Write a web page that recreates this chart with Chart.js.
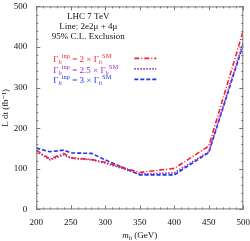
<!DOCTYPE html>
<html>
<head>
<meta charset="utf-8">
<script src="https://cdn.jsdelivr.net/npm/chart.js@4"></script>
<style>
  html, body { margin: 0; padding: 0; background: #fff; }
  #wrap { width: 250px; height: 241px; }
</style>
</head>
<body>
<div id="wrap"><canvas id="LimitChart"></canvas></div>
<script>
const masses = [200, 220, 240, 250, 280, 300, 350, 400, 450, 500]
const width2 = [146, 124, 138, 127, 123, 116, 91, 101, 156, 440]
const width25 = [143, 122, 134, 126, 122, 114, 87, 90, 142, 412]
const width3 = [151, 142, 146, 139, 138, 122, 85, 85, 140, 406]
const xTicks = [200, 250, 300, 350, 400, 450, 500]
const yTicks = [0, 100, 200, 300, 400, 500]

const serif = "'Liberation Serif', 'DejaVu Serif', serif"

function pts(ys) {
  return masses.map((m, i) => ({ x: m, y: ys[i] }))
}

// text with some pieces in sub/superscript, left aligned at x
function richText(ctx, x, y, parts, color, size) {
  size = size || 9
  ctx.fillStyle = color
  ctx.textBaseline = 'alphabetic'
  ctx.textAlign = 'left'
  for (const p of parts) {
    const s = p.s ? size * 0.72 : size
    ctx.font = (p.i ? 'italic ' : '') + s + 'px ' + serif
    let dy = 0
    if (p.s == 'sub') dy = 2
    if (p.s == 'sup') dy = -4
    ctx.fillText(p.t, x, y + dy)
    x += ctx.measureText(p.t).width
  }
  return x
}

function richWidth(ctx, parts, size) {
  let w = 0
  for (const p of parts) {
    const s = p.s ? size * 0.72 : size
    ctx.font = (p.i ? 'italic ' : '') + s + 'px ' + serif
    w += ctx.measureText(p.t).width
  }
  return w
}

const frame = {
  id: 'frame',
  afterDraw(chart) {
    const ctx = chart.ctx
    const a = chart.chartArea
    const xs = chart.scales.x
    const ys = chart.scales.y
    ctx.save()
    ctx.strokeStyle = '#777'
    ctx.lineWidth = 1
    ctx.strokeRect(a.left + 0.5, a.top + 0.5, a.right - a.left - 1, a.bottom - a.top - 1)
    ctx.beginPath()
    for (let v = 200; v <= 500; v += 10) {
      const px = Math.round(xs.getPixelForValue(v)) + 0.5
      const len = v % 50 == 0 ? 4 : 2
      ctx.moveTo(px, a.bottom); ctx.lineTo(px, a.bottom - len)
      ctx.moveTo(px, a.top); ctx.lineTo(px, a.top + len)
    }
    for (let v = 0; v <= 500; v += 20) {
      const py = Math.round(ys.getPixelForValue(v)) + 0.5
      const len = v % 100 == 0 ? 4 : 2
      ctx.moveTo(a.left, py); ctx.lineTo(a.left + len, py)
      ctx.moveTo(a.right, py); ctx.lineTo(a.right - len, py)
    }
    ctx.stroke()

    // x axis title with italic m and subscript h
    const xt = [{ t: 'm', i: true }, { t: 'h', s: 'sub', i: true }, { t: ' (GeV)' }]
    const w = richWidth(ctx, xt, 9)
    richText(ctx, (a.left + a.right) / 2 - w / 2, chart.height - 3, xt, '#111', 9)

    // header text
    ctx.fillStyle = '#111'
    ctx.font = '9px ' + serif
    ctx.textAlign = 'center'
    const cx = a.left + 52
    ctx.fillText('LHC 7 TeV', cx, a.top + 13)
    ctx.fillText('Line: 2e2\u03bc + 4\u03bc', cx, a.top + 23)
    ctx.fillText('95% C.L. Exclusion', cx, a.top + 33)

    // legend
    const entries = [
      { k: '2', color: '#f5222d', dash: [5, 2, 1, 2] },
      { k: '2.5', color: '#9a2fb0', dash: [1.5, 1.5] },
      { k: '3', color: '#2234f2', dash: [4, 2] }
    ]
    entries.forEach((e, i) => {
      const y = a.top + 56 + i * 10.5
      richText(ctx, a.left + 17, y, [
        { t: '\u0393' }, { t: 'h', s: 'sub', i: true }, { t: 'inp', s: 'sup' },
        { t: ' = ' + e.k + ' \u00d7 \u0393' }, { t: 'h', s: 'sub', i: true }, { t: 'SM', s: 'sup' }
      ], e.color, 9)
      ctx.strokeStyle = e.color
      ctx.lineWidth = 1.6
      ctx.setLineDash(e.dash)
      ctx.beginPath()
      ctx.moveTo(a.left + 98, y - 4)
      ctx.lineTo(a.left + 120, y - 4)
      ctx.stroke()
      ctx.setLineDash([])
    })
    ctx.restore()
  }
}

const el = document.getElementById('LimitChart')
new Chart(el, {
  type: 'line',
  data: {
    datasets: [
      { label: '2', data: pts(width2), borderColor: '#f5222d', borderWidth: 1.6, borderDash: [5, 2, 1, 2], pointRadius: 0, tension: 0 },
      { label: '2.5', data: pts(width25), borderColor: '#9a2fb0', borderWidth: 1.6, borderDash: [1.5, 1.5], pointRadius: 0, tension: 0 },
      { label: '3', data: pts(width3), borderColor: '#2234f2', borderWidth: 1.6, borderDash: [4, 2], pointRadius: 0, tension: 0 }
    ]
  },
  options: {
    responsive: true,
    maintainAspectRatio: false,
    animation: false,
    layout: { padding: { top: 5, right: 2, left: 0, bottom: 0 } },
    plugins: { legend: { display: false }, tooltip: { enabled: false } },
    scales: {
      x: {
        type: 'linear', min: 200, max: 500,
        afterBuildTicks: s => { s.ticks = xTicks.map(v => ({ value: v })) },
        grid: { display: false },
        border: { display: false },
        ticks: { color: '#111', font: { family: serif, size: 9 }, padding: 0, maxRotation: 0 },
        title: { display: true, text: 'm (GeV)', color: 'rgba(0,0,0,0)', font: { family: serif, size: 9 }, padding: { top: 1, bottom: 1 } }
      },
      y: {
        min: 0, max: 500,
        afterBuildTicks: s => { s.ticks = yTicks.map(v => ({ value: v })) },
        grid: { display: false },
        border: { display: false },
        ticks: { color: '#111', font: { family: serif, size: 9 }, padding: 1 },
        title: { display: true, text: 'L dt (fb\u207b\u00b9)', color: '#111', font: { family: serif, size: 9 }, padding: { top: 0, bottom: 2 } }
      }
    }
  },
  plugins: [frame]
})
</script>
</body>
</html>
